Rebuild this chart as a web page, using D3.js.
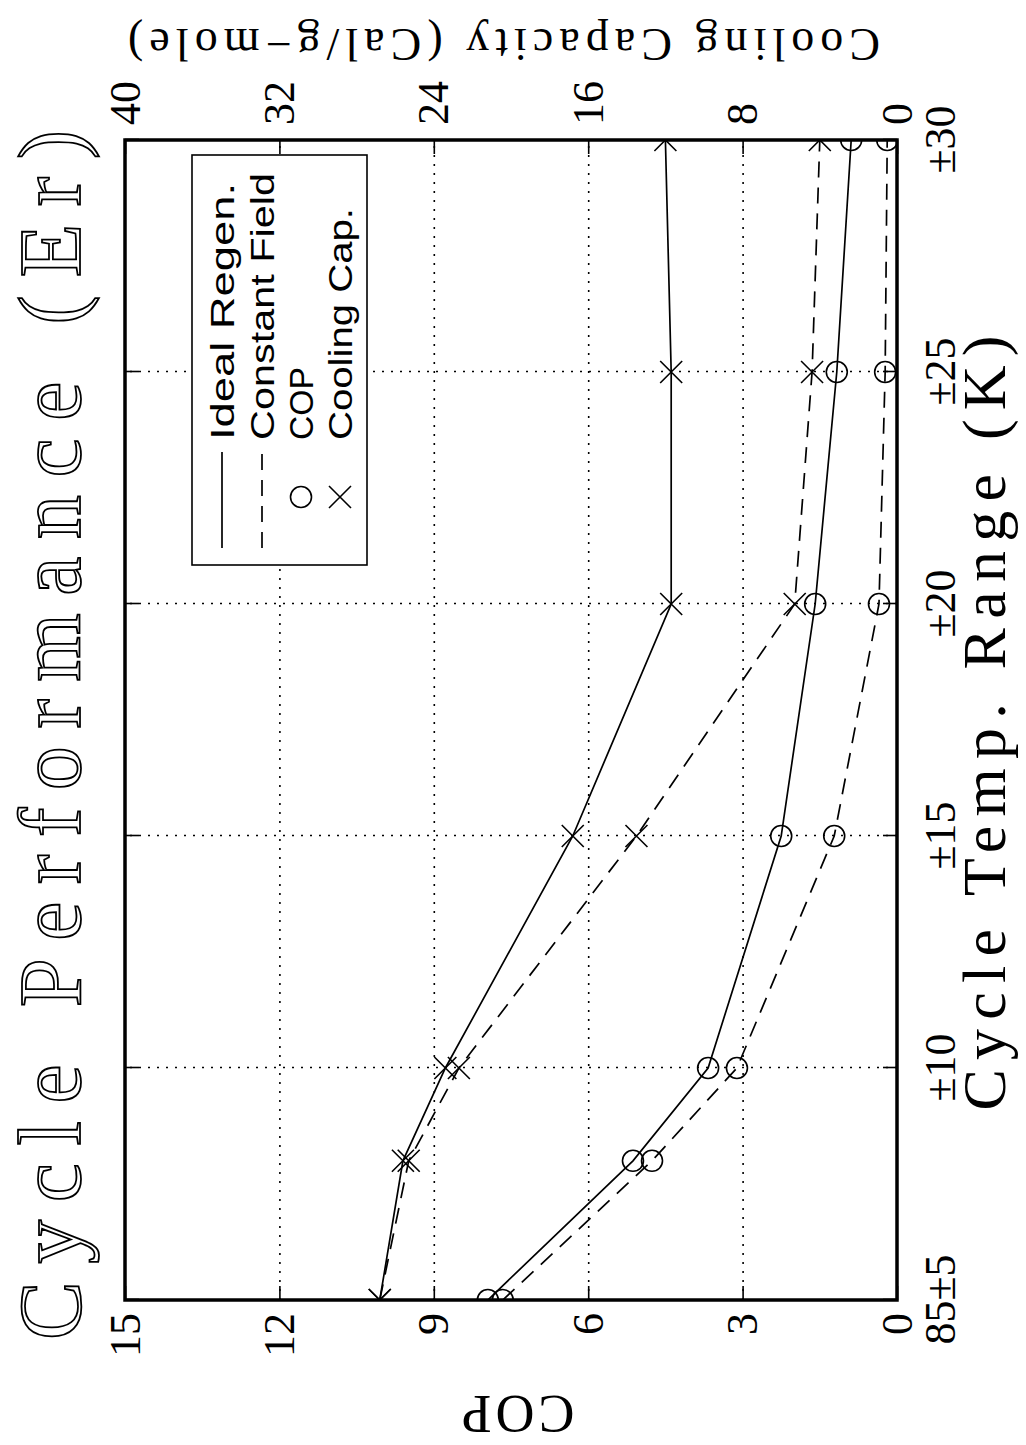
<!DOCTYPE html>
<meta charset="utf-8">
<script src="https://d3js.org/d3.v7.min.js"></script>
<style>
body { margin: 0; background: #fff; }
.tick text { font-family: "Liberation Serif", "DejaVu Serif", serif; font-size: 44px; fill: #000; }
.grid line { stroke: #000; stroke-width: 1.6; stroke-dasharray: 2 7; }
.grid .domain { display: none; }
</style>
<div id="chart"></div>
<script>

// data
var tempRange = [5, 8, 10, 15, 20, 25, 30];
var copIdeal  = [7.95, 5.13, 3.67, 2.25, 1.59, 1.17, 0.89];
var copConst  = [7.66, 4.76, 3.11, 1.22, 0.35, 0.23, 0.19];
var capIdeal  = [26.8, 25.6, 23.4, 16.8, 11.7, 11.7, 12.0];
var capConst  = [26.8, 25.3, 22.7, 13.5, 5.3, 4.4, 4.0];

var xTicks      = [5, 10, 15, 20, 25, 30];
var xTickLabels = ["85\u00b15", "\u00b110", "\u00b115", "\u00b120", "\u00b125", "\u00b130"];
var copTicks    = [0, 3, 6, 9, 12, 15];
var capTicks    = [0, 8, 16, 24, 32, 40];

var legendItems = ["Ideal Regen.", "Constant Field", "COP", "Cooling Cap."];

// the chart is drawn landscape and turned a quarter turn
var W = 1160, H = 772;

var svg = d3.select("#chart").append("svg")
    .attr("width", 1026)
    .attr("height", 1445)
    .style("background", "#fff");

var g = svg.append("g")
    .attr("transform", "translate(125,1300) rotate(-90)");

var x = d3.scaleLinear().domain([5, 30]).range([0, W]);
var yCop = d3.scaleLinear().domain([0, 15]).range([H, 0]);
var yCap = d3.scaleLinear().domain([0, 40]).range([H, 0]);

// dotted grid
g.append("g")
    .attr("class", "grid")
    .attr("transform", "translate(0," + H + ")")
    .call(d3.axisBottom(x).tickValues([10, 15, 20, 25]).tickSize(-H).tickFormat(""));
g.append("g")
    .attr("class", "grid")
    .call(d3.axisLeft(yCop).tickValues([3, 6, 9, 12]).tickSize(-W).tickFormat(""));

// axes with short inward ticks
function styleAxis(sel) {
  sel.select(".domain").remove();
  sel.selectAll(".tick line").attr("stroke", "#000").attr("stroke-width", 1.6);
}

g.append("g")
    .attr("transform", "translate(0," + H + ")")
    .call(d3.axisBottom(x).tickValues(xTicks)
      .tickFormat(function(d, i) { return xTickLabels[i]; })
      .tickSizeInner(-14).tickSizeOuter(0).tickPadding(27))
    .call(styleAxis);

g.append("g")
    .call(d3.axisTop(x).tickValues(xTicks).tickFormat("")
      .tickSizeInner(-14).tickSizeOuter(0))
    .call(styleAxis);

g.append("g")
    .call(d3.axisLeft(yCop).tickValues(copTicks)
      .tickSizeInner(-14).tickSizeOuter(0).tickPadding(13))
    .call(styleAxis);

g.append("g")
    .attr("transform", "translate(" + W + ",0)")
    .call(d3.axisRight(yCap).tickValues(capTicks)
      .tickSizeInner(-14).tickSizeOuter(0).tickPadding(15))
    .call(styleAxis);

// plot frame
g.append("rect")
    .attr("width", W)
    .attr("height", H)
    .attr("fill", "none")
    .attr("stroke", "#000")
    .attr("stroke-width", 3.5);

// clip so edge markers are cut in half like the original
g.append("clipPath").attr("id", "plotclip")
  .append("rect").attr("width", W).attr("height", H);

var plot = g.append("g").attr("clip-path", "url(#plotclip)");

var series = [
  {vals: copIdeal, y: yCop, dash: null,    mark: "o"},
  {vals: copConst, y: yCop, dash: "16 10", mark: "o"},
  {vals: capIdeal, y: yCap, dash: null,    mark: "x"},
  {vals: capConst, y: yCap, dash: "16 10", mark: "x"}
];

var xMark = "M-11,-11L11,11M-11,11L11,-11";

series.forEach(function(s) {
  var pts = tempRange.map(function(t, i) { return [x(t), s.y(s.vals[i])]; });
  plot.append("path")
      .attr("d", d3.line()(pts))
      .attr("fill", "none")
      .attr("stroke", "#000")
      .attr("stroke-width", 1.7)
      .attr("stroke-dasharray", s.dash);

  if (s.mark == "o") {
    plot.selectAll(null).data(pts).enter().append("circle")
        .attr("cx", function(d) { return d[0]; })
        .attr("cy", function(d) { return d[1]; })
        .attr("r", 10.5)
        .attr("fill", "none")
        .attr("stroke", "#000")
        .attr("stroke-width", 1.6);
  } else {
    plot.selectAll(null).data(pts).enter().append("path")
        .attr("transform", function(d) { return "translate(" + d[0] + "," + d[1] + ")"; })
        .attr("d", xMark)
        .attr("stroke", "#000")
        .attr("stroke-width", 1.6);
  }
});

// legend
var lg = g.append("g");
lg.append("rect")
    .attr("x", 735).attr("y", 67)
    .attr("width", 410).attr("height", 175)
    .attr("fill", "#fff")
    .attr("stroke", "#000")
    .attr("stroke-width", 1.6);

var rowV = [97, 137, 176, 215];
var textLen = [257, 267, 73, 232];

lg.append("line").attr("x1", 752).attr("x2", 848).attr("y1", rowV[0]).attr("y2", rowV[0])
    .attr("stroke", "#000").attr("stroke-width", 1.7);
lg.append("line").attr("x1", 752).attr("x2", 848).attr("y1", rowV[1]).attr("y2", rowV[1])
    .attr("stroke", "#000").attr("stroke-width", 1.7).attr("stroke-dasharray", "16 10");
lg.append("circle").attr("cx", 803).attr("cy", rowV[2]).attr("r", 10.5)
    .attr("fill", "none").attr("stroke", "#000").attr("stroke-width", 1.6);
lg.append("path").attr("transform", "translate(803," + rowV[3] + ")").attr("d", xMark)
    .attr("stroke", "#000").attr("stroke-width", 1.6);

lg.selectAll(null).data(legendItems).enter().append("text")
    .attr("x", 860)
    .attr("y", function(d, i) { return rowV[i]; })
    .attr("dy", "0.36em")
    .attr("textLength", function(d, i) { return textLen[i]; })
    .attr("lengthAdjust", "spacingAndGlyphs")
    .style("font-family", "'Liberation Sans', Arial, sans-serif")
    .style("font-size", "33px")
    .text(function(d) { return d; });

// titles
g.append("text")
    .attr("x", 565).attr("y", -45)
    .attr("text-anchor", "middle")
    .attr("textLength", 1210)
    .attr("lengthAdjust", "spacing")
    .style("font-family", "'Liberation Serif', serif")
    .style("font-size", "88px")
    .attr("fill", "#fff")
    .attr("stroke", "#000")
    .attr("stroke-width", 1.8)
    .text("Cycle Performance (Er)");

g.append("text")
    .attr("x", 577).attr("y", 880)
    .attr("text-anchor", "middle")
    .attr("textLength", 775)
    .attr("lengthAdjust", "spacing")
    .style("font-family", "'Liberation Serif', serif")
    .style("font-size", "62px")
    .text("Cycle Temp. Range (K)");

g.append("text")
    .attr("transform", "translate(-115," + (H / 2 + 7) + ") rotate(-90)")
    .attr("text-anchor", "middle")
    .attr("dy", "0.35em")
    .attr("textLength", 113)
    .attr("lengthAdjust", "spacing")
    .style("font-family", "'Liberation Serif', serif")
    .style("font-size", "54px")
    .text("COP");

g.append("text")
    .attr("transform", "translate(1255,379) rotate(-90)")
    .attr("text-anchor", "middle")
    .attr("dy", "0.35em")
    .attr("textLength", 752)
    .attr("lengthAdjust", "spacing")
    .style("font-family", "'Liberation Serif', serif")
    .style("font-size", "46px")
    .text("Cooling Capacity (Cal/g\u2212mole)");

</script>
